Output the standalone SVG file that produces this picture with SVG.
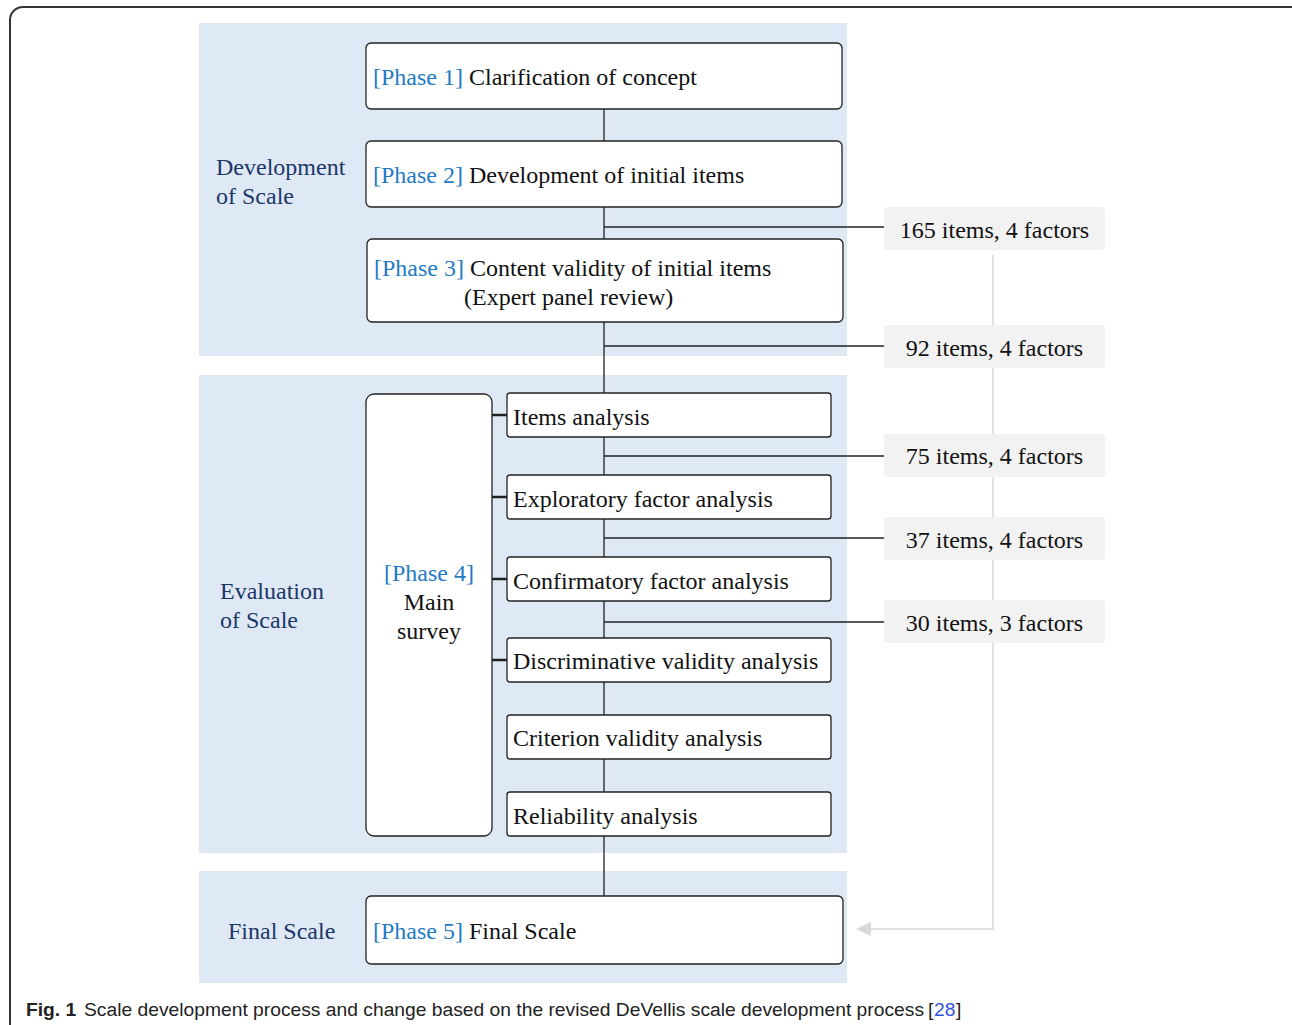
<svg xmlns="http://www.w3.org/2000/svg" width="1292" height="1025" viewBox="0 0 1292 1025">
<style>
.frame{fill:#fff;stroke:#333;stroke-width:2}
.panel{fill:#dee9f5}
.box{fill:#fff;stroke:#222;stroke-width:1.3}
.cnt{fill:#f2f2f2}
.t{font-family:"Liberation Serif","Times New Roman",serif;font-size:24px;fill:#111}
.ph{fill:#1f7bc4}
.lab{font-family:"Liberation Serif","Times New Roman",serif;font-size:24px;fill:#1b3768}
.ln{stroke:#222;stroke-width:1.3;fill:none}
.tick{stroke:#222;stroke-width:2.5;fill:none}
.gr{stroke:#d9d9d9;stroke-width:1.5;fill:none}
.cap{font-family:"Liberation Sans","Open Sans",sans-serif;font-size:19.25px;fill:#222}
.ref{fill:#3355dd}
</style>
<defs>
<marker id="ah" markerWidth="15" markerHeight="14" refX="0" refY="7" orient="auto" markerUnits="userSpaceOnUse">
<path d="M0,0 L15,7 L0,14 Z" fill="#d9d9d9"/>
</marker>
</defs>
<rect class="frame" x="10" y="7" width="1300" height="1040" rx="13"/>
<g id="panels">
<rect class="panel" x="199" y="23" width="648" height="333"/>
<rect class="panel" x="199" y="375" width="648" height="478"/>
<rect class="panel" x="199" y="871" width="648" height="112"/>
</g>
<g id="connectors">
<line class="ln" x1="604" y1="109" x2="604" y2="896"/>
<line class="ln" x1="604" y1="227" x2="884" y2="227"/>
<line class="ln" x1="604" y1="346" x2="884" y2="346"/>
<line class="ln" x1="604" y1="456" x2="884" y2="456"/>
<line class="ln" x1="604" y1="538" x2="884" y2="538"/>
<line class="ln" x1="604" y1="622" x2="884" y2="622"/>
<line class="tick" x1="492" y1="415" x2="507" y2="415"/>
<line class="tick" x1="492" y1="497" x2="507" y2="497"/>
<line class="tick" x1="492" y1="579" x2="507" y2="579"/>
<line class="tick" x1="492" y1="660" x2="507" y2="660"/>
<polyline class="gr" points="993,255 993,929 871,929" marker-end="url(#ah)"/>
</g>
<g id="label-dev"><text class="lab" x="216" y="175">Development</text><text class="lab" x="216" y="204">of Scale</text></g>
<g id="label-eval"><text class="lab" x="220" y="599">Evaluation</text><text class="lab" x="220" y="628">of Scale</text></g>
<g id="label-final"><text class="lab" x="228" y="939">Final Scale</text></g>
<g id="phase1"><rect class="box" x="366" y="43" width="476" height="66" rx="5"/>
<text class="t" x="373" y="85"><tspan class="ph">[Phase 1]</tspan> Clarification of concept</text></g>
<g id="phase2"><rect class="box" x="366" y="141" width="476" height="66" rx="5"/>
<text class="t" x="373" y="183"><tspan class="ph">[Phase 2]</tspan> Development of initial items</text></g>
<g id="phase3"><rect class="box" x="367" y="239" width="476" height="83" rx="5"/>
<text class="t" x="374" y="276"><tspan class="ph">[Phase 3]</tspan> Content validity of initial items</text>
<text class="t" x="464" y="305">(Expert panel review)</text></g>
<g id="phase4"><rect class="box" x="366" y="394" width="126" height="442" rx="8"/>
<text class="t" x="429" y="581" text-anchor="middle"><tspan class="ph">[Phase 4]</tspan></text>
<text class="t" x="429" y="610" text-anchor="middle">Main</text>
<text class="t" x="429" y="639" text-anchor="middle">survey</text></g>
<g id="items"><rect class="box" x="507" y="393" width="324" height="44" rx="3"/><text class="t" x="513" y="425">Items analysis</text></g>
<g id="efa"><rect class="box" x="507" y="475" width="324" height="44" rx="3"/><text class="t" x="513" y="507">Exploratory factor analysis</text></g>
<g id="cfa"><rect class="box" x="507" y="557" width="324" height="44" rx="3"/><text class="t" x="513" y="589">Confirmatory factor analysis</text></g>
<g id="dva"><rect class="box" x="507" y="638" width="324" height="44" rx="3"/><text class="t" x="513" y="669">Discriminative validity analysis</text></g>
<g id="cva"><rect class="box" x="507" y="715" width="324" height="44" rx="3"/><text class="t" x="513" y="746">Criterion validity analysis</text></g>
<g id="ra"><rect class="box" x="507" y="792" width="324" height="44" rx="3"/><text class="t" x="513" y="824">Reliability analysis</text></g>
<g id="phase5"><rect class="box" x="366" y="896" width="477" height="68" rx="5"/>
<text class="t" x="373" y="939"><tspan class="ph">[Phase 5]</tspan> Final Scale</text></g>
<g id="c165"><rect class="cnt" x="884" y="207" width="221" height="43" rx="3"/><text class="t" x="994.5" y="238" text-anchor="middle">165 items, 4 factors</text></g>
<g id="c92"><rect class="cnt" x="884" y="325" width="221" height="43" rx="3"/><text class="t" x="994.5" y="356" text-anchor="middle">92 items, 4 factors</text></g>
<g id="c75"><rect class="cnt" x="884" y="434" width="221" height="43" rx="3"/><text class="t" x="994.5" y="464" text-anchor="middle">75 items, 4 factors</text></g>
<g id="c37"><rect class="cnt" x="884" y="517" width="221" height="43" rx="3"/><text class="t" x="994.5" y="548" text-anchor="middle">37 items, 4 factors</text></g>
<g id="c30"><rect class="cnt" x="884" y="600" width="221" height="43" rx="3"/><text class="t" x="994.5" y="631" text-anchor="middle">30 items, 3 factors</text></g>
<g id="caption">
<text class="cap" x="26" y="1016" font-weight="bold">Fig. 1</text>
<text class="cap" x="84" y="1016">Scale development process and change based on the revised DeVellis scale development process</text>
<text class="cap" x="928" y="1016">[</text>
<text class="cap ref" x="934" y="1016">28</text>
<text class="cap" x="956" y="1016">]</text>
</g>
</svg>
